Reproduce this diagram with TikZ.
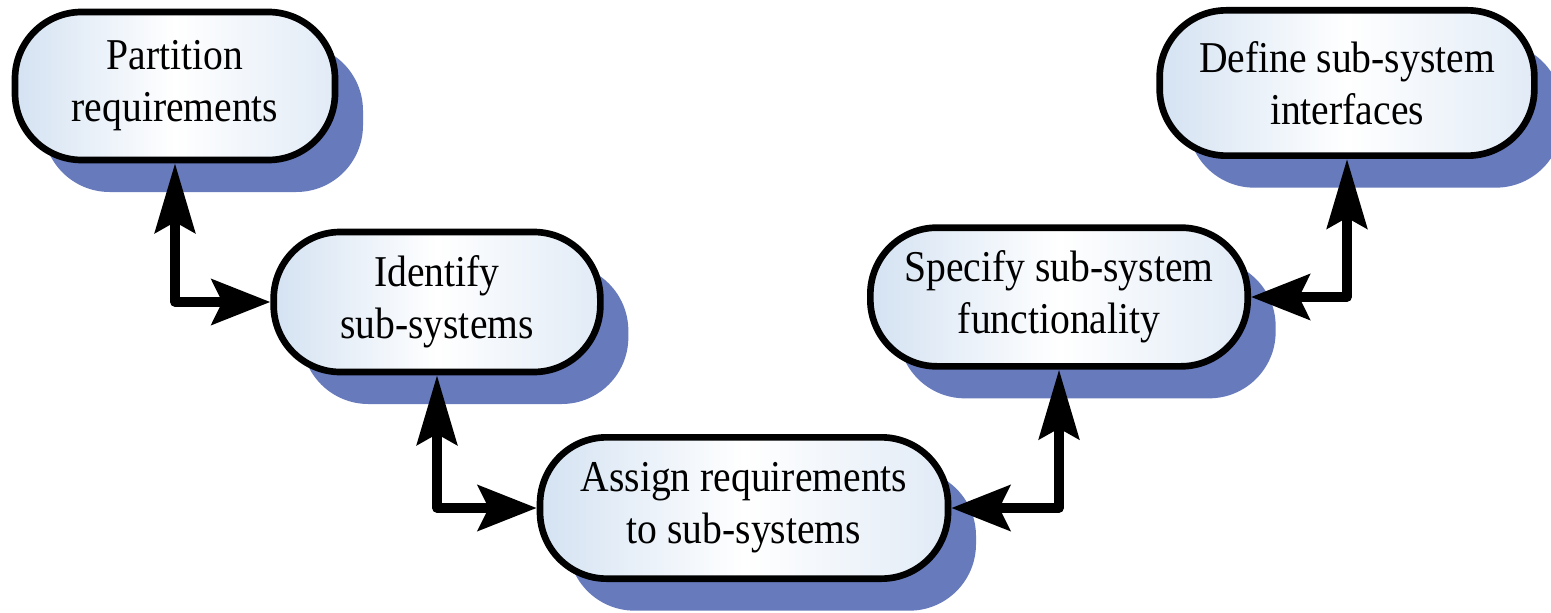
\documentclass[tikz,border=0pt]{standalone}
\usepackage{fontspec}
\setmainfont{Liberation Serif}[FakeStretch=0.9]
\usetikzlibrary{arrows.meta,shadows}

\definecolor{shadowblue}{RGB}{102,122,188}
\definecolor{boxblue}{RGB}{212,226,242}

\tikzset{every picture/.style={line width=0.75pt}}
\tikzset{
  stepbox/.style={draw, line width=5pt, rounded corners=50pt, align=center, inner sep=0pt,
    left color=boxblue, right color=boxblue!70, middle color=white,
    drop shadow={shadow xshift=21pt, shadow yshift=-24pt, fill=shadowblue, opacity=1},
    font=\rmfamily\fontsize{33}{39}\selectfont},
  link/.style={line width=7pt, line join=round},
  vtip/.tip={Stealth[length=52pt,width=30pt,inset=8pt]},
  htip/.tip={Stealth[length=44pt,width=34pt,inset=8pt]}
}

\begin{document}
\begin{tikzpicture}[x=0.75pt,y=0.75pt,yscale=-1,xscale=1]
\useasboundingbox (0,0) rectangle (1551,613);

%Rounded Rect: partition
\node [stepbox, minimum width=240pt, minimum height=111pt] (partition) at (175,86) {Partition\\requirements};
%Rounded Rect: identify
\node [stepbox, minimum width=245pt, minimum height=105pt] (identify) at (437,302) {Identify\\sub-systems};
%Rounded Rect: assign
\node [stepbox, minimum width=306pt, minimum height=106pt] (assign) at (744,508) {Assign requirements\\to sub-systems};
%Rounded Rect: specify
\node [stepbox, minimum width=283pt, minimum height=104pt] (specify) at (1059,297) {Specify sub-system\\functionality};
%Rounded Rect: define
\node [stepbox, minimum width=281pt, minimum height=109pt] (define) at (1347,83) {Define sub-system\\interfaces};

%Connectors
\draw [link, vtip-htip] (partition.south) |- (identify.west) ;
\draw [link, vtip-htip] (identify.south) |- (assign.west) ;
\draw [link, htip-vtip] (assign.east) -| (specify.south) ;
\draw [link, htip-vtip] (specify.east) -| (define.south) ;

\end{tikzpicture}
\end{document}
